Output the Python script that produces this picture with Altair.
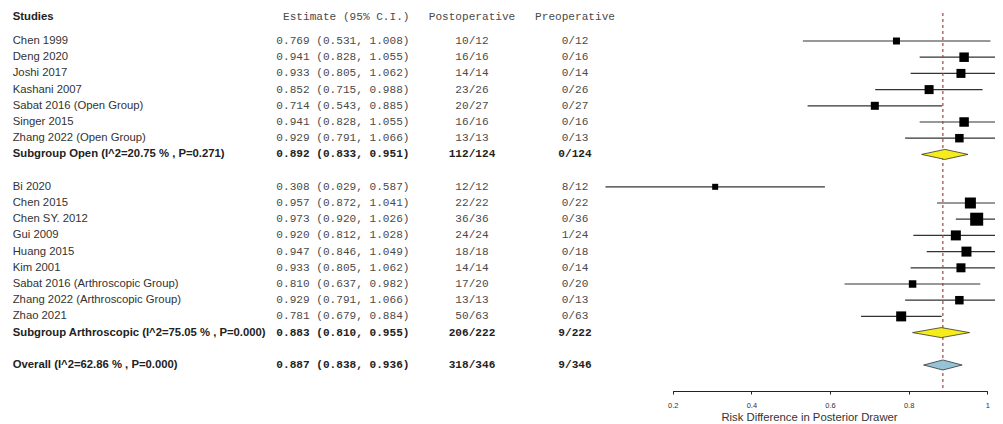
import altair as alt
import pandas as pd

# ---------------- data ----------------
studies = ["Chen 1999", "Deng 2020", "Joshi 2017", "Kashani 2007",
           "Sabat 2016 (Open Group)", "Singer 2015", "Zhang 2022 (Open Group)",
           "Bi 2020", "Chen 2015", "Chen SY. 2012", "Gui 2009", "Huang 2015",
           "Kim 2001", "Sabat 2016 (Arthroscopic Group)",
           "Zhang 2022 (Arthroscopic Group)", "Zhao 2021"]
groups = ["Open"] * 7 + ["Arthroscopic"] * 9
est = [0.769, 0.941, 0.933, 0.852, 0.714, 0.941, 0.929,
       0.308, 0.957, 0.973, 0.920, 0.947, 0.933, 0.810, 0.929, 0.781]
lo = [0.531, 0.828, 0.805, 0.715, 0.543, 0.828, 0.791,
      0.029, 0.872, 0.920, 0.812, 0.846, 0.805, 0.637, 0.791, 0.679]
hi = [1.008, 1.055, 1.062, 0.988, 0.885, 1.055, 1.066,
      0.587, 1.041, 1.026, 1.028, 1.049, 1.062, 0.982, 1.066, 0.884]
post = ["10/12", "16/16", "14/14", "23/26", "20/27", "16/16", "13/13",
        "12/12", "22/22", "36/36", "24/24", "18/18", "14/14", "17/20", "13/13", "50/63"]
pre = ["0/12", "0/16", "0/14", "0/26", "0/27", "0/16", "0/13",
       "8/12", "0/22", "0/36", "1/24", "0/18", "0/14", "0/20", "0/13", "0/63"]
weight = [4.9, 9.0, 8.1, 8.1, 6.4, 9.0, 7.2,
          3.6, 12.1, 16.9, 10.0, 10.0, 8.1, 5.6, 7.2, 10.0]

sum_labels = ["Subgroup Open (I^2=20.75 % , P=0.271)",
              "Subgroup Arthroscopic (I^2=75.05 % , P=0.000)",
              "Overall (I^2=62.86 % , P=0.000)"]
sum_groups = ["Open", "Arthroscopic", "Overall"]
sum_est = [0.892, 0.883, 0.887]
sum_lo = [0.833, 0.810, 0.838]
sum_hi = [0.951, 0.955, 0.936]
sum_post = ["112/124", "206/222", "318/346"]
sum_pre = ["0/124", "9/222", "9/346"]
sum_fill = ["#f5ec1a", "#f5ec1a", "#96c3d6"]

headers = ["Studies", "Estimate (95% C.I.)", "Postoperative", "Preoperative"]
axis_ticks = [0.2, 0.4, 0.6, 0.8, 1.0]
x_title = "Risk Difference in Posterior Drawer"

# ---------------- row layout ----------------
study_rows = []
sum_rows = []
r = 0
for g in ["Open", "Arthroscopic"]:
    for i, gg in enumerate(groups):
        if gg == g:
            r += 1
            study_rows.append((i, r))
    r += 1
    sum_rows.append(r)
    r += 1  # blank row
sum_rows.append(r + 1)  # overall

order = sorted(study_rows, key=lambda t: t[1])
df = pd.DataFrame({
    "study": [studies[i] for i, _ in order],
    "row": [rr for _, rr in order],
    "est": [est[i] for i, _ in order],
    "lo": [lo[i] for i, _ in order],
    "hi": [hi[i] for i, _ in order],
    "post": [post[i] for i, _ in order],
    "pre": [pre[i] for i, _ in order],
    "weight": [weight[i] for i, _ in order],
})
df["ci"] = [f"{e:.3f} ({a:.3f}, {b:.3f})" for e, a, b in zip(df.est, df.lo, df.hi)]

dsum = pd.DataFrame({
    "label": sum_labels, "grp": sum_groups, "row": sum_rows,
    "est": sum_est, "lo": sum_lo, "hi": sum_hi,
    "post": sum_post, "pre": sum_pre, "fill": sum_fill,
})
dsum["ci"] = [f"{e:.3f} ({a:.3f}, {b:.3f})" for e, a, b in zip(dsum.est, dsum.lo, dsum.hi)]

# diamond polygons (horizontal area: y is the path axis, x..x2 the band)
HALF = 0.31
dia = []
for _, s in dsum.iterrows():
    for yy, x1, x2 in [(s.row - HALF, s.est, s.est),
                       (s.row, s.lo, s.hi),
                       (s.row + HALF, s.est, s.est)]:
        dia.append({"grp": s.grp, "yy": float(yy), "xa": float(x1), "xb": float(x2),
                    "fill": s.fill})
ddia = pd.DataFrame(dia)

dhead = pd.DataFrame({"text": headers, "row": [-0.5] * 4})

# ---------------- scales ----------------
SANS = "Liberation Sans"
MONO = "Liberation Mono"
W, H = 987, 383

xscale = alt.Scale(domain=[0.2, 1.0], range=[664.7, 979.3], nice=False, zero=False)
yscale = alt.Scale(domain=[0, 21], range=[16.8, 357.0], nice=False, zero=False)
xaxis = alt.Axis(values=axis_ticks, format="~g", grid=False, domainColor="#222",
                 domainWidth=1, tickColor="#222", tickSize=3, tickWidth=1,
                 labelFontSize=7.5, labelPadding=7, labelFont=SANS, labelColor="#333",
                 labelFlush=False, title=x_title, titleFontSize=11.3,
                 titleFontWeight="normal", titleFont=SANS, titleColor="#333",
                 titlePadding=3, titleX=801, titleAlign="center")


def X(field):
    return alt.X(field, type="quantitative", scale=xscale, axis=xaxis, stack=None)


def Y(field):
    return alt.Y(field, type="quantitative", scale=yscale, axis=None, stack=None)


base = alt.Chart(df)

ci = base.mark_rule(color="#333", strokeWidth=1.2, clip=True).encode(
    x=X("lo"), x2=alt.X2("hi"), y=Y("row"))

sq = base.mark_square(color="#000", opacity=1, clip=True).encode(
    x=X("est"), y=Y("row"),
    size=alt.Size("weight:Q", scale=alt.Scale(domain=[0, 16.9], range=[0, 169], zero=True),
                  legend=None))

diamonds = alt.Chart(ddia).mark_area(orient="horizontal", stroke="#333",
                                     strokeWidth=0.8, opacity=1,
                                     interpolate="linear").encode(
    y=Y("yy"), x=X("xa"), x2=alt.X2("xb"), detail="grp:N",
    fill=alt.Fill("fill:N", scale=None))

ref = alt.Chart(dsum[dsum.grp == "Overall"]).mark_rule(
    color="#9b4a3f", strokeDash=[3, 3], strokeWidth=1.2).encode(
    x=X("est"), y=alt.value(5), y2=alt.value(383))

X_NAME, X_CI, X_POST, X_PRE = 4.7, 401.5, 464, 567


def txt(data, field, x, align, font, size, color, bold=False):
    kw = dict(align=align, baseline="middle", font=font, fontSize=size, color=color)
    if bold:
        kw["fontWeight"] = "bold"
    return data.mark_text(**kw).encode(x=alt.value(x), y=Y("row"), text=f"{field}:N")


sbase = alt.Chart(dsum)
hbase = alt.Chart(dhead)

layers = [
    ci, ref, sq, diamonds,
    txt(base, "study", X_NAME, "left", SANS, 11.3, "#333"),
    txt(base, "ci", X_CI, "right", MONO, 11.1, "#4a4a4a"),
    txt(base, "post", X_POST, "center", MONO, 11.1, "#4a4a4a"),
    txt(base, "pre", X_PRE, "center", MONO, 11.1, "#4a4a4a"),
    txt(sbase, "label", X_NAME, "left", SANS, 11.3, "#222", True),
    txt(sbase, "ci", X_CI, "right", MONO, 11.1, "#222", True),
    txt(sbase, "post", X_POST, "center", MONO, 11.1, "#222", True),
    txt(sbase, "pre", X_PRE, "center", MONO, 11.1, "#222", True),
    txt(hbase.transform_filter(alt.datum.text == headers[0]), "text", X_NAME, "left",
        SANS, 11.3, "#222", True),
    txt(hbase.transform_filter(alt.datum.text == headers[1]), "text", X_CI, "right",
        MONO, 11.1, "#4a4a4a"),
    txt(hbase.transform_filter(alt.datum.text == headers[2]), "text", X_POST, "center",
        MONO, 11.1, "#4a4a4a"),
    txt(hbase.transform_filter(alt.datum.text == headers[3]), "text", X_PRE, "center",
        MONO, 11.1, "#4a4a4a"),
]

chart = alt.layer(*layers).properties(
    width=W, height=H, padding=0, background="white").configure_view(stroke=None)

chart.save("out.html", embed_options={"renderer": "svg", "actions": False})
